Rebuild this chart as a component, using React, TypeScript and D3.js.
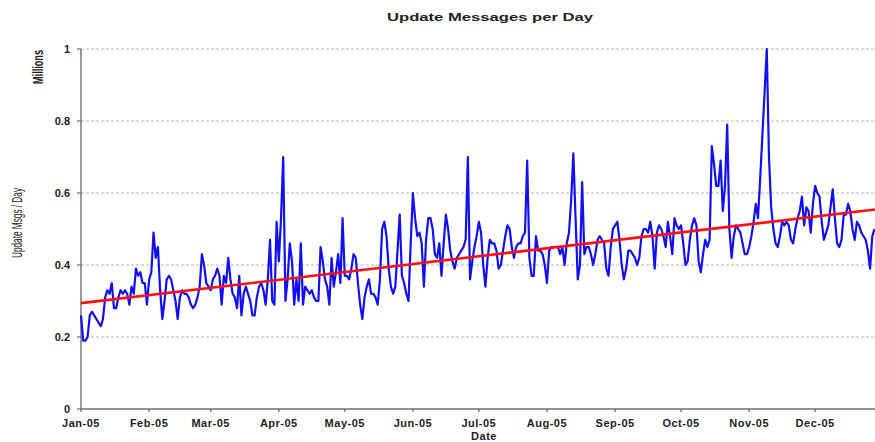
import React from "react";
import * as d3 from "d3";

const chartTitle = "Update Messages per Day";
const yAxisTitle = "Update Msgs / Day";
const yUnitLabel = "Millions";
const xAxisTitle = "Date";

const monthLabels = ["Jan-05","Feb-05","Mar-05","Apr-05","May-05","Jun-05","Jul-05","Aug-05","Sep-05","Oct-05","Nov-05","Dec-05"];
const yTicks = [0, 0.2, 0.4, 0.6, 0.8, 1];
const yTickLabels = ["0", "0.2", "0.4", "0.6", "0.8", "1"];

// daily update messages (millions), starting 1 Jan 2005
const dailyValues = [
  0.26,0.19,0.19,0.20,0.26,0.27,0.26,0.25,0.24,0.23,
  0.25,0.31,0.33,0.32,0.35,0.28,0.28,0.31,0.33,0.32,
  0.33,0.32,0.29,0.34,0.32,0.39,0.37,0.38,0.35,0.35,
  0.29,0.36,0.38,0.49,0.42,0.45,0.33,0.25,0.30,0.36,
  0.37,0.36,0.33,0.30,0.25,0.31,0.33,0.32,0.32,0.31,
  0.29,0.28,0.29,0.31,0.34,0.43,0.40,0.35,0.34,0.33,
  0.36,0.37,0.39,0.37,0.29,0.37,0.35,0.42,0.36,0.32,
  0.31,0.28,0.37,0.26,0.32,0.34,0.32,0.30,0.26,0.26,
  0.31,0.34,0.35,0.33,0.29,0.36,0.47,0.30,0.29,0.52,
  0.41,0.53,0.70,0.30,0.36,0.46,0.41,0.29,0.36,0.30,
  0.46,0.29,0.34,0.33,0.32,0.33,0.31,0.30,0.30,0.45,
  0.41,0.36,0.34,0.29,0.42,0.34,0.38,0.43,0.35,0.53,
  0.37,0.37,0.36,0.39,0.43,0.42,0.35,0.29,0.25,0.31,
  0.34,0.36,0.32,0.32,0.31,0.29,0.36,0.50,0.52,0.48,
  0.39,0.34,0.32,0.34,0.44,0.54,0.37,0.35,0.32,0.30,
  0.46,0.60,0.53,0.48,0.49,0.46,0.34,0.47,0.53,0.53,
  0.50,0.43,0.42,0.46,0.37,0.46,0.54,0.50,0.44,0.41,
  0.39,0.42,0.43,0.44,0.45,0.47,0.70,0.36,0.41,0.45,
  0.48,0.52,0.49,0.40,0.34,0.42,0.47,0.46,0.46,0.44,
  0.39,0.40,0.44,0.48,0.51,0.50,0.45,0.42,0.45,0.46,
  0.46,0.48,0.49,0.69,0.42,0.37,0.37,0.48,0.44,0.44,
  0.43,0.40,0.35,0.44,0.45,0.45,0.45,0.45,0.43,0.45,
  0.40,0.46,0.49,0.58,0.71,0.53,0.36,0.40,0.63,0.43,
  0.45,0.45,0.43,0.40,0.43,0.47,0.48,0.47,0.46,0.39,
  0.37,0.45,0.50,0.51,0.52,0.47,0.40,0.36,0.39,0.44,
  0.44,0.43,0.42,0.40,0.42,0.48,0.50,0.50,0.49,0.52,
  0.48,0.39,0.49,0.51,0.50,0.48,0.45,0.52,0.48,0.43,
  0.53,0.51,0.50,0.51,0.46,0.40,0.41,0.47,0.51,0.53,
  0.51,0.41,0.38,0.43,0.47,0.45,0.47,0.73,0.68,0.62,
  0.62,0.69,0.55,0.62,0.79,0.50,0.42,0.48,0.51,0.50,
  0.49,0.46,0.43,0.43,0.45,0.48,0.52,0.57,0.53,0.64,
  0.76,0.88,1.00,0.70,0.56,0.50,0.46,0.45,0.48,0.52,
  0.51,0.52,0.51,0.47,0.46,0.50,0.53,0.55,0.59,0.51,
  0.56,0.55,0.49,0.57,0.62,0.60,0.59,0.52,0.47,0.49,
  0.51,0.56,0.61,0.53,0.46,0.45,0.47,0.54,0.54,0.57,
  0.55,0.50,0.47,0.52,0.51,0.49,0.48,0.47,0.44,0.39,
  0.48,0.50,
];

// linear trend end points
const trendDays = [0, 364];
const trendValues = [0.294, 0.556];

const W = 875;
const H = 442;
const plotLeft = 81;
const plotTop = 49;
const plotBottom = 409;
const dayWidth = 2.198;

const startDate = new Date(Date.UTC(2005, 0, 1));
const endDate = new Date(Date.UTC(2006, 0, 1));
const dayDate = (i: number) => new Date(startDate.getTime() + i * 86400000);

export default function App() {
  const x = d3.scaleUtc().domain([startDate, endDate]).range([plotLeft, plotLeft + 365 * dayWidth]);
  const y = d3.scaleLinear().domain([0, 1]).range([plotBottom, plotTop]);

  const line = d3
    .line<[Date, number]>()
    .x((d) => x(d[0]))
    .y((d) => y(d[1]));

  const series: [Date, number][] = dailyValues.map((v, i) => [dayDate(i), v]);
  const trend: [Date, number][] = trendDays.map((d, i) => [dayDate(d), trendValues[i]]);
  const months = monthLabels.map((_, i) => new Date(Date.UTC(2005, i, 1)));

  const font = "'Liberation Sans', Arial, sans-serif";
  const narrow = "'Liberation Sans Narrow', 'Arial Narrow', 'Liberation Sans', sans-serif";

  return (
    <svg
      width={W}
      height={H}
      style={{ position: "absolute", left: 0, top: 0, background: "#fff" }}
    >
      <rect x={0} y={0} width={W} height={H} fill="#fff" />
      {/* grid lines */}
      {yTicks.filter((t) => t > 0).map((t) => (
        <line key={"g" + t} x1={plotLeft} x2={W} y1={y(t)} y2={y(t)} stroke="#b8b8b8" strokeWidth={1} strokeDasharray="3,2" />
      ))}
      {/* axes */}
      <line x1={plotLeft} x2={plotLeft} y1={plotTop} y2={plotBottom} stroke="#6e6e6e" strokeWidth={1.4} />
      <line x1={plotLeft} x2={W} y1={plotBottom} y2={plotBottom} stroke="#6e6e6e" strokeWidth={1.4} />
      {yTicks.map((t, i) => (
        <g key={"yt" + t}>
          <line x1={plotLeft - 4} x2={plotLeft} y1={y(t)} y2={y(t)} stroke="#6e6e6e" strokeWidth={1.3} />
          <text x={70} y={y(t) + 4} textAnchor="end" fontFamily={font} fontWeight="bold" fontSize={11} fill="#222">
            {yTickLabels[i]}
          </text>
        </g>
      ))}
      {months.map((m, i) => (
        <g key={"xt" + i}>
          <line x1={x(m)} x2={x(m)} y1={plotBottom} y2={plotBottom + 3} stroke="#6e6e6e" strokeWidth={1.3} />
          <text x={x(m)} y={426.5} textAnchor="middle" fontFamily={font} fontWeight="bold" fontSize={11} letterSpacing={0.5} fill="#222">
            {monthLabels[i]}
          </text>
        </g>
      ))}
      {/* data */}
      <path d={line(series) || ""} fill="none" stroke="#1010f0" strokeWidth={2.2} strokeLinejoin="round" />
      <path d={line(trend) || ""} fill="none" stroke="#ff1010" strokeWidth={2.6} />
      {/* titles */}
      <text x={490} y={21} textAnchor="middle" fontFamily={font} fontWeight="bold" fontSize={11.5} fill="#222" textLength={206} lengthAdjust="spacingAndGlyphs">
        {chartTitle}
      </text>
      <text x={484} y={440} textAnchor="middle" fontFamily={font} fontWeight="bold" fontSize={11} letterSpacing={0.5} fill="#222">
        {xAxisTitle}
      </text>
      <text transform="translate(43,67) rotate(-90)" textAnchor="middle" fontFamily={narrow} fontWeight="bold" fontSize={15} fill="#222" textLength={34} lengthAdjust="spacingAndGlyphs">
        {yUnitLabel}
      </text>
      <text transform="translate(22,223) rotate(-90)" textAnchor="middle" fontFamily={narrow} fontSize={15} fill="#222" textLength={70} lengthAdjust="spacingAndGlyphs">
        {yAxisTitle}
      </text>
    </svg>
  );
}
